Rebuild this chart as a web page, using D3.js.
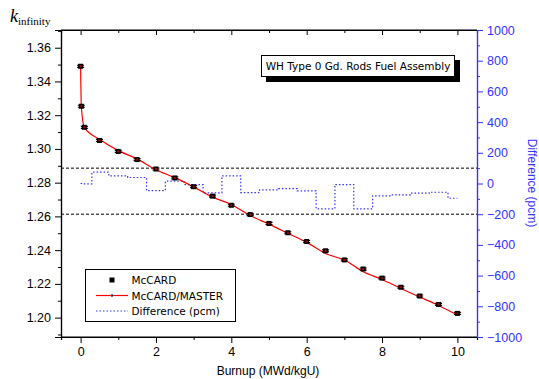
<!DOCTYPE html>
<html>
<head>
<meta charset="utf-8">
<script src="https://cdn.jsdelivr.net/npm/d3@7"></script>
<style>
  body { margin: 0; background: #fff; }
  svg text { font-family: "Liberation Sans", Arial, sans-serif; }
</style>
</head>
<body>
<svg id="chart" width="539" height="379"></svg>
<script>
// burnup points (MWd/kgU)
var burnup = [0, 0.02, 0.1, 0.5, 1, 1.5, 2, 2.5, 3, 3.5, 4, 4.5, 5, 5.5, 6, 6.5, 7, 7.5, 8, 8.5, 9, 9.5, 10];
// McCARD k-infinity
var kMcCARD = [1.3490, 1.3253, 1.3128, 1.3050, 1.2985, 1.2937, 1.2881, 1.2828, 1.2776, 1.2720, 1.2666, 1.2611,
               1.2558, 1.2503, 1.2451, 1.2396, 1.2342, 1.2288, 1.2234, 1.2180, 1.2128, 1.2078, 1.2025];
// McCARD/MASTER k-infinity
var kMaster = [1.3490, 1.3253, 1.3128, 1.3057, 1.2990, 1.2941, 1.2876, 1.2830, 1.2775, 1.2714, 1.2671, 1.2605,
               1.2554, 1.2500, 1.2446, 1.2380, 1.2341, 1.2272, 1.2226, 1.2173, 1.2122, 1.2072, 1.2015];
// difference (pcm)
var diffPcm = [0, 0, -2, 74, 50, 39, -46, 15, -7, -61, 50, -59, -41, -33, -48, -165, -7, -165, -80, -74, -63, -57, -96];
var errK = 0.0006;
var refLines = [100, -200];

var leftTicks = [1.20, 1.22, 1.24, 1.26, 1.28, 1.30, 1.32, 1.34, 1.36];
var rightTicks = [-1000, -800, -600, -400, -200, 0, 200, 400, 600, 800, 1000];
var xTicks = [0, 2, 4, 6, 8, 10];

var L = 61, R = 477, T = 30, B = 337;
var blue = "#3333ff";

var svg = d3.select("#chart");
var x = d3.scaleLinear().domain([-0.52, 10.52]).range([L, R]);
var yL = d3.scaleLinear().domain([1.1885, 1.3705]).range([B, T]);
var yR = d3.scaleLinear().domain([-1000, 1000]).range([B, T]);

// axes
var gx = svg.append("g").attr("transform", "translate(0," + B + ")")
  .call(d3.axisBottom(x).tickValues(xTicks).tickSize(6).tickPadding(4).tickFormat(d3.format("d")));
svg.append("g").attr("transform", "translate(0," + B + ")")
  .call(d3.axisBottom(x).tickValues(d3.range(1, 10, 2)).tickSize(3).tickFormat(""));
var gxt = svg.append("g").attr("transform", "translate(0," + T + ")")
  .call(d3.axisBottom(x).tickValues(xTicks).tickSize(5).tickFormat(""));
svg.append("g").attr("transform", "translate(0," + T + ")")
  .call(d3.axisBottom(x).tickValues(d3.range(1, 10, 2)).tickSize(3).tickFormat(""));

var gl = svg.append("g").attr("transform", "translate(" + L + ",0)")
  .call(d3.axisLeft(yL).tickValues(leftTicks).tickSize(6).tickPadding(4).tickFormat(d3.format(".2f")));
svg.append("g").attr("transform", "translate(" + L + ",0)")
  .call(d3.axisLeft(yL).tickValues(d3.range(1.19, 1.37, 0.02)).tickSize(3).tickFormat(""));

var gr = svg.append("g").attr("class", "right").attr("transform", "translate(" + R + ",0)")
  .call(d3.axisRight(yR).tickValues(rightTicks).tickSize(6).tickPadding(4).tickFormat(d3.format("d")));
svg.append("g").attr("class", "right").attr("transform", "translate(" + R + ",0)")
  .call(d3.axisRight(yR).tickValues(d3.range(-900, 1000, 200)).tickSize(3).tickFormat(""));

svg.selectAll(".domain").attr("stroke", "#000").attr("stroke-width", 1.2);
svg.selectAll(".tick line").attr("stroke", "#000");
svg.selectAll(".tick text").attr("font-size", 12.5).attr("fill", "#000");
svg.selectAll("g.right .domain, g.right .tick line").attr("stroke", blue);
svg.selectAll("g.right .tick text").attr("fill", blue);
// top axis domain (mirror line)
gxt.select(".domain").attr("d", "M" + L + ",0H" + R);
gx.select(".domain").attr("d", "M" + L + ",0H" + R);

// axis titles
svg.append("text").attr("x", 268).attr("y", 375).attr("text-anchor", "middle")
  .attr("font-size", 12).text("Burnup (MWd/kgU)");
var kt = svg.append("text").attr("x", 10).attr("y", 22)
  .style("font-family", "'Liberation Serif', 'Times New Roman', serif");
kt.append("tspan").attr("font-size", 18).attr("font-style", "italic").text("k");
kt.append("tspan").attr("font-size", 11).attr("dy", 3).text("infinity");
svg.append("text").attr("transform", "translate(528,183) rotate(90)").attr("text-anchor", "middle")
  .attr("font-size", 12).attr("fill", blue).text("Difference (pcm)");

// reference dashed lines
svg.selectAll(".ref").data(refLines).enter().append("line")
  .attr("x1", L).attr("x2", R)
  .attr("y1", function(d){ return yR(d); }).attr("y2", function(d){ return yR(d); })
  .attr("stroke", "#000").attr("stroke-width", 1).attr("stroke-dasharray", "3,2");

// difference step line
var diffLine = d3.line().curve(d3.curveStep)
  .x(function(d, i){ return x(burnup[i]); })
  .y(function(d){ return yR(d); });
svg.append("path").datum(diffPcm).attr("d", diffLine)
  .attr("fill", "none").attr("stroke", blue).attr("stroke-width", 1.2).attr("stroke-dasharray", "1.5,2");

// McCARD/MASTER line
var kLine = d3.line().curve(d3.curveMonotoneX)
  .x(function(d, i){ return x(burnup[i]); })
  .y(function(d){ return yL(d); });
svg.append("path").datum(kMaster).attr("d", kLine)
  .attr("fill", "none").attr("stroke", "#ff0000").attr("stroke-width", 1.2);

// McCARD markers with error bars
var mk = svg.append("g").selectAll("g").data(kMcCARD).enter().append("g")
  .attr("transform", function(d, i){ return "translate(" + x(burnup[i]) + "," + yL(d) + ")"; });
mk.append("path")
  .attr("d", function(d){
    var e = yL(d - errK) - yL(d);
    return "M-3.5," + (-e) + "H3.5M0," + (-e) + "V" + e + "M-3.5," + e + "H3.5";
  })
  .attr("stroke", "#000").attr("stroke-width", 1.2);
mk.append("rect").attr("x", -2.5).attr("y", -2.5).attr("width", 5).attr("height", 5).attr("fill", "#000");
mk.append("rect").attr("x", -1).attr("y", -1).attr("width", 2).attr("height", 2).attr("fill", "#a00");

// title box
svg.append("rect").attr("x", 266).attr("y", 60).attr("width", 194).attr("height", 22).attr("fill", "#000");
svg.append("rect").attr("x", 261.5).attr("y", 55.5).attr("width", 193).attr("height", 21)
  .attr("fill", "#fff").attr("stroke", "#000").attr("stroke-width", 1);
svg.append("text").attr("x", 358).attr("y", 70).attr("text-anchor", "middle")
  .attr("font-size", 10.5).style("font-family", "'DejaVu Sans', Verdana, sans-serif")
  .text("WH Type 0 Gd. Rods Fuel Assembly");

// legend
var lg = svg.append("g");
lg.append("rect").attr("x", 85.5).attr("y", 269.5).attr("width", 150).attr("height", 52)
  .attr("fill", "#fff").attr("stroke", "#000").attr("stroke-width", 1);
var ly = [280, 295.5, 311];
var names = ["McCARD", "McCARD/MASTER", "Difference (pcm)"];
lg.append("rect").attr("x", 109.5).attr("y", ly[0] - 2.5).attr("width", 5).attr("height", 5).attr("fill", "#000");
lg.append("line").attr("x1", 96).attr("x2", 128).attr("y1", ly[1]).attr("y2", ly[1])
  .attr("stroke", "#ff0000").attr("stroke-width", 1.2);
lg.append("rect").attr("x", 111).attr("y", ly[1] - 1).attr("width", 2).attr("height", 2).attr("fill", "#000");
lg.append("line").attr("x1", 96).attr("x2", 128).attr("y1", ly[2]).attr("y2", ly[2])
  .attr("stroke", blue).attr("stroke-width", 1.2).attr("stroke-dasharray", "1.5,2");
lg.selectAll(".lt").data(names).enter().append("text")
  .attr("x", 131.5).attr("y", function(d, i){ return ly[i] + 4; })
  .attr("font-size", 10.5).style("font-family", "'DejaVu Sans', Verdana, sans-serif")
  .text(function(d){ return d; });
</script>
</body>
</html>
